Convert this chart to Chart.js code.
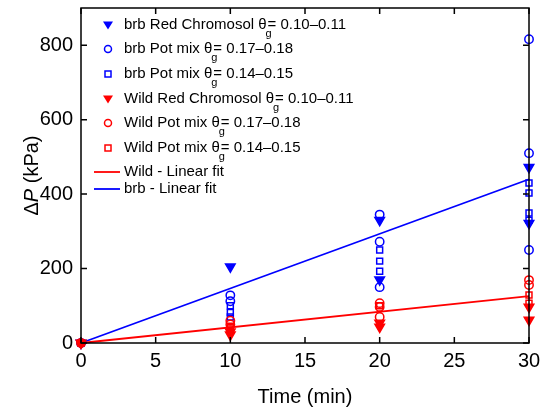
<!DOCTYPE html>
<html>
<head>
<meta charset="utf-8">
<script src="https://cdn.jsdelivr.net/npm/chart.js@4"></script>
<style>
  html, body { margin: 0; padding: 0; background: #fff; }
  #wrap { width: 541px; height: 409px; }
</style>
</head>
<body>
<div id="wrap"><canvas id="chart-dp"></canvas></div>
<script>
// time (min) and pressure rise (kPa) per treatment
const brbRedTime = [0, 10, 20, 20, 30, 30];
const brbRedDP = [0, 205, 330, 170, 472, 322];
const brbPot17Time = [0, 10, 10, 20, 20, 20, 30, 30, 30];
const brbPot17DP = [0, 128, 112, 345, 272, 150, 816, 510, 250];
const brbPot14Time = [0, 10, 10, 10, 20, 20, 20, 30, 30, 30, 30];
const brbPot14DP = [0, 100, 82, 70, 250, 220, 193, 430, 403, 349, 330];
const wildRedTime = [0, 10, 10, 20, 20, 30, 30];
const wildRedDP = [0, 30, 22, 54, 43, 97, 62];
const wildPot17Time = [0, 10, 10, 20, 20, 20, 30, 30];
const wildPot17DP = [0, 60, 50, 107, 97, 70, 169, 156];
const wildPot14Time = [0, 10, 10, 20, 30, 30];
const wildPot14DP = [0, 45, 38, 100, 129, 107];
const fitTime = [0, 30];
const wildFitDP = [0, 126];
const brbFitDP = [0, 440];

const xTicks = [0, 5, 10, 15, 20, 25, 30];
const yTicks = [0, 200, 400, 600, 800];

const legendItems = [
  { kind: 'tri', color: '#0000ff', pre: 'brb Red Chromosol θ', post: '= 0.10–0.11' },
  { kind: 'circ', color: '#0000ff', pre: 'brb Pot mix θ', post: '= 0.17–0.18' },
  { kind: 'sq', color: '#0000ff', pre: 'brb Pot mix θ', post: '= 0.14–0.15' },
  { kind: 'tri', color: '#ff0000', pre: 'Wild Red Chromosol θ', post: '= 0.10–0.11' },
  { kind: 'circ', color: '#ff0000', pre: 'Wild Pot mix θ', post: '= 0.17–0.18' },
  { kind: 'sq', color: '#ff0000', pre: 'Wild Pot mix θ', post: '= 0.14–0.15' },
  { kind: 'line', color: '#ff0000', pre: 'Wild - Linear fit' },
  { kind: 'line', color: '#0000ff', pre: 'brb - Linear fit' },
];

const pts = (xs, ys) => xs.map((x, i) => ({ x, y: ys[i] }));

// lower order draws on top: wild markers above brb markers, lines underneath
function markerSet(label, xs, ys, color, kind, order) {
  const base = { label, order, data: pts(xs, ys), showLine: false, clip: false, borderColor: color, borderWidth: 1.5 };
  if (kind === 'tri') return { ...base, pointStyle: 'triangle', rotation: 180, pointRadius: 5.5, backgroundColor: color };
  if (kind === 'circ') return { ...base, pointStyle: 'circle', pointRadius: 4.2, backgroundColor: 'rgba(0,0,0,0)' };
  return { ...base, pointStyle: 'rect', pointRadius: 4.2, backgroundColor: 'rgba(0,0,0,0)' };
}

function fitSet(label, ys, color) {
  return { label, order: 5, data: pts(fitTime, ys), showLine: true, pointRadius: 0, borderColor: color, borderWidth: 1.8, clip: false };
}

const FONT = '"Liberation Sans", Arial';

const frame = {
  id: 'frame',
  afterDraw(chart) {
    const { ctx, chartArea: a, scales: { x, y } } = chart;
    ctx.save();
    ctx.strokeStyle = '#000';
    ctx.lineWidth = 1.5;
    ctx.strokeRect(a.left, a.top, a.right - a.left, a.bottom - a.top);
    ctx.beginPath();
    xTicks.forEach(v => {
      const px = x.getPixelForValue(v);
      ctx.moveTo(px, a.bottom); ctx.lineTo(px, a.bottom - 6);
      ctx.moveTo(px, a.top); ctx.lineTo(px, a.top + 6);
    });
    yTicks.forEach(v => {
      const py = y.getPixelForValue(v);
      ctx.moveTo(a.left, py); ctx.lineTo(a.left + 6, py);
      ctx.moveTo(a.right, py); ctx.lineTo(a.right - 6, py);
    });
    ctx.stroke();

    // y title with italic P
    ctx.translate(32, (a.top + a.bottom) / 2);
    ctx.rotate(-Math.PI / 2);
    ctx.fillStyle = '#000';
    ctx.textBaseline = 'middle';
    const parts = [['20px ' + FONT, 'Δ'], ['italic 20px ' + FONT, 'P'], ['20px ' + FONT, ' (kPa)']];
    let w = 0;
    parts.forEach(p => { ctx.font = p[0]; w += ctx.measureText(p[1]).width; });
    let cx = -w / 2;
    parts.forEach(p => { ctx.font = p[0]; ctx.fillText(p[1], cx, 0); cx += ctx.measureText(p[1]).width; });
    ctx.restore();

    // legend
    ctx.save();
    ctx.textBaseline = 'middle';
    const rows = [25, 49, 74, 99, 123, 148, 172, 189];
    legendItems.forEach((it, i) => {
      const ry = rows[i];
      const mx = 108;
      ctx.strokeStyle = it.color;
      ctx.fillStyle = it.color;
      ctx.lineWidth = 1.5;
      if (it.kind === 'tri') {
        ctx.beginPath(); ctx.moveTo(mx - 5, ry - 3.5); ctx.lineTo(mx + 5, ry - 3.5); ctx.lineTo(mx, ry + 4.5); ctx.closePath(); ctx.fill();
      } else if (it.kind === 'circ') {
        ctx.beginPath(); ctx.arc(mx, ry, 3.5, 0, Math.PI * 2); ctx.stroke();
      } else if (it.kind === 'sq') {
        ctx.strokeRect(mx - 3, ry - 3, 6, 6);
      } else {
        ctx.lineWidth = 1.8;
        ctx.beginPath(); ctx.moveTo(94, ry); ctx.lineTo(120, ry); ctx.stroke();
      }
      ctx.fillStyle = '#000';
      ctx.font = '15px ' + FONT;
      let tx = 124;
      ctx.fillText(it.pre, tx, ry);
      if (it.post) {
        tx += ctx.measureText(it.pre).width;
        ctx.font = '11px ' + FONT;
        ctx.fillText('g', tx - 1, ry + 9);
        ctx.font = '15px ' + FONT;
        ctx.fillText(it.post, tx + 1, ry);
      }
    });
    ctx.restore();
  }
};

new Chart(document.getElementById('chart-dp'), {
  type: 'scatter',
  data: {
    datasets: [
      fitSet('Wild - Linear fit', wildFitDP, '#ff0000'),
      fitSet('brb - Linear fit', brbFitDP, '#0000ff'),
      markerSet('brb Red Chromosol', brbRedTime, brbRedDP, '#0000ff', 'tri', 3),
      markerSet('brb Pot mix 0.17-0.18', brbPot17Time, brbPot17DP, '#0000ff', 'circ', 3),
      markerSet('brb Pot mix 0.14-0.15', brbPot14Time, brbPot14DP, '#0000ff', 'sq', 3),
      markerSet('Wild Red Chromosol', wildRedTime, wildRedDP, '#ff0000', 'tri', 1),
      markerSet('Wild Pot mix 0.17-0.18', wildPot17Time, wildPot17DP, '#ff0000', 'circ', 1),
      markerSet('Wild Pot mix 0.14-0.15', wildPot14Time, wildPot14DP, '#ff0000', 'sq', 1),
    ]
  },
  options: {
    responsive: true,
    maintainAspectRatio: false,
    animation: false,
    layout: { padding: { top: 8, right: 12, left: 0, bottom: 0 } },
    scales: {
      x: {
        type: 'linear', min: 0, max: 30,
        afterBuildTicks: s => { s.ticks = xTicks.map(v => ({ value: v })); },
        afterFit: s => { s.height = 66; s.paddingLeft = 0; s.paddingRight = 0; },
        grid: { display: false, drawTicks: false },
        border: { display: false },
        ticks: { color: '#000', font: { size: 20, family: FONT }, padding: 6, maxRotation: 0 },
        title: { display: true, text: 'Time (min)', color: '#000', font: { size: 20, family: FONT }, padding: { top: 2, bottom: 0 } }
      },
      y: {
        type: 'linear', min: 0, max: 900,
        afterBuildTicks: s => { s.ticks = yTicks.map(v => ({ value: v })); },
        afterFit: s => { s.width = 81; s.paddingTop = 0; s.paddingBottom = 0; },
        grid: { display: false, drawTicks: false },
        border: { display: false },
        ticks: { color: '#000', font: { size: 20, family: FONT }, padding: 8 }
      }
    },
    plugins: { legend: { display: false }, tooltip: { enabled: false } }
  },
  plugins: [frame]
});
</script>
</body>
</html>
